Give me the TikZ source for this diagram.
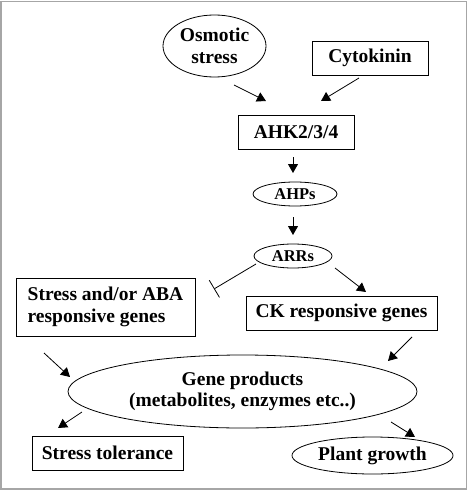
\documentclass[tikz,border=0pt]{standalone}
\usepackage{fontspec}
\setmainfont{Liberation Serif}
\usetikzlibrary{arrows.meta,shapes.geometric}

\begin{document}
\begin{tikzpicture}[x=1pt,y=-1pt,
    every node/.style = {font=\fontsize{19.5}{21.5}\selectfont\bfseries, align=center, inner sep=0pt},
    BoxStyle/.style = {draw, thick, rectangle},
    OvalStyle/.style = {draw, thick, ellipse},
    EdgeStyle/.style = {thick, -{Triangle[length=9pt,width=10pt]}},
    BlockStyle/.style = {thick, -{Bar[width=20pt]}}]
    \draw[gray!70, line width=1.5pt] (1,1.5) rectangle (466.5,489);
    \useasboundingbox (0,0) rectangle (468,492);
    % top inputs
    \node[OvalStyle, minimum width=103pt, minimum height=62pt] (osm) at (214.5,46) {Osmotic\\stress};
    \node[BoxStyle, minimum width=116pt, minimum height=34pt] (cyto) at (370,58) {Cytokinin};
    \node[BoxStyle, minimum width=116pt, minimum height=34pt] (ahk) at (296,132) {AHK2/3/4};
    \node[OvalStyle, minimum width=84pt, minimum height=24pt, font=\fontsize{16.5}{18}\selectfont\bfseries] (ahp) at (295,194) {AHPs};
    \node[OvalStyle, minimum width=78pt, minimum height=24pt, font=\fontsize{16.5}{18}\selectfont\bfseries] (arr) at (293,256) {ARRs};
    % responsive genes
    \node[BoxStyle, minimum width=179pt, minimum height=58pt, align=left] (aba) at (105.5,307) {Stress and/or ABA\\responsive genes};
    \node[BoxStyle, minimum width=191pt, minimum height=34pt] (ck) at (341.5,313) {CK responsive genes};
    \node[OvalStyle, minimum width=349pt, minimum height=73pt] (gene) at (242.5,391.5) {Gene products\\(metabolites, enzymes etc..)};
    % outputs
    \node[BoxStyle, minimum width=151pt, minimum height=34pt] (tol) at (107.5,453) {Stress tolerance};
    \node[OvalStyle, minimum width=161pt, minimum height=37pt] (grow) at (372.5,455.5) {Plant growth};
    % free ends of the connectors
    \coordinate (c1) at (234,85);  \coordinate (c2) at (266,101);
    \coordinate (c3) at (359,78);  \coordinate (c4) at (321,101);
    \coordinate (c5) at (293,157); \coordinate (c6) at (293,173);
    \coordinate (c7) at (293,217); \coordinate (c8) at (293,235);
    \coordinate (c9) at (256,264); \coordinate (c10) at (214,289);
    \coordinate (c11) at (335,268); \coordinate (c12) at (366,292);
    \coordinate (c13) at (412,337); \coordinate (c14) at (388,361);
    \coordinate (c15) at (44,353); \coordinate (c16) at (70,377);
    \coordinate (c17) at (82,412); \coordinate (c18) at (58,428);
    \coordinate (c19) at (391,422); \coordinate (c20) at (415,437);
    \draw[EdgeStyle] (c1) -- (c2);
    \draw[EdgeStyle] (c3) -- (c4);
    \draw[EdgeStyle] (c5) -- (c6);
    \draw[EdgeStyle] (c7) -- (c8);
    \draw[BlockStyle] (c9) -- (c10);
    \draw[EdgeStyle] (c11) -- (c12);
    \draw[EdgeStyle] (c13) -- (c14);
    \draw[EdgeStyle] (c15) -- (c16);
    \draw[EdgeStyle] (c17) -- (c18);
    \draw[EdgeStyle] (c19) -- (c20);
\end{tikzpicture}
\end{document}
